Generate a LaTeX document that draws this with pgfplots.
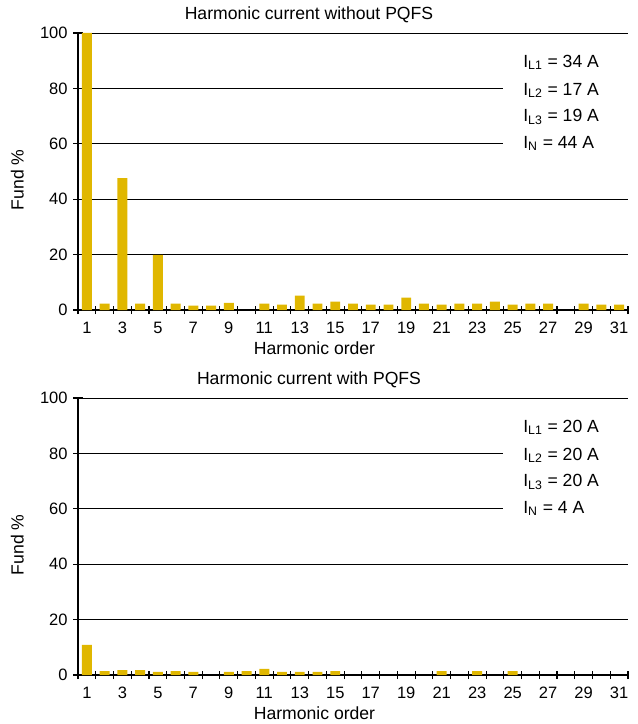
\documentclass[border=0pt]{standalone}
\usepackage{fontspec}
\setmainfont{Liberation Sans}
\usepackage{pgfplots}
\pgfplotsset{compat=1.18}
\definecolor{bargold}{RGB}{224,183,0}
\newcommand\txt{\fontsize{11}{13}\selectfont}
\tikzset{lab/.style={anchor=base west, inner sep=0pt, font=\txt}}
\pgfplotsset{
  hbar/.style={
    width=343.75pt, height=173.125pt, scale only axis,
    anchor=south west,
    axis lines=left, axis line style={-, line width=0.7pt, black},
    xmin=0.5, xmax=31.5, ymin=0, ymax=100,
    xtick={1,3,...,31},
    minor xtick={0.5,1.5,...,31.5},
    ytick={0,20,...,100},
    tick align=center,
    major tick length=6pt,
    minor tick length=5pt,
    major x tick style={draw=none},
    minor tick style={line width=0.7pt, black},
    major y tick style={line width=0.7pt, black},
    /pgf/number format/assume math mode=true,
    tick label style={font=\fontsize{10.3}{12}\selectfont},
    xticklabel style={yshift=-1pt},
    title style={at={(axis description cs:0.42,1)}, anchor=base, yshift=2.5pt, font=\txt},
    xlabel style={at={(axis description cs:0.43,0)}, anchor=base, yshift=-27.5pt, font=\txt},
    ylabel style={at={([xshift=-34pt]axis description cs:0,0.47)}, anchor=base, font=\txt},
    xlabel={Harmonic order},
    ylabel={Fund \%},
  },
  gl/.style={black, line width=0.6pt, forget plot, mark=none},
  bars/.style={ybar, bar width=0.56, fill=bargold, draw=none, forget plot},
}
\begin{document}
\begin{tikzpicture}
\useasboundingbox (-48.75pt,-258.75pt) rectangle (349.375pt,193.75pt);
% top chart
\begin{axis}[hbar, at={(0,0)}, title={Harmonic current without PQFS}]
\addplot[gl] coordinates {(0.5,20) (31.5,20)};
\addplot[gl] coordinates {(0.5,40) (31.5,40)};
\addplot[gl] coordinates {(0.5,60) (24.45,60)};
\addplot[gl] coordinates {(0.5,80) (24.45,80)};
\addplot[gl] coordinates {(0.5,100) (31.5,100)};
\addplot[bars] coordinates {
(1,100) (2,2.3) (3,47.6) (4,2.3) (5,19.9) (6,2.3) (7,1.6) (8,1.6) (9,2.6)
(11,2.3) (12,1.9) (13,5.2) (14,2.3) (15,3.0) (16,2.3) (17,1.9) (18,1.9)
(19,4.5) (20,2.3) (21,1.9) (22,2.3) (23,2.3) (24,3.0) (25,1.9) (26,2.3)
(27,2.3) (29,2.3) (30,1.9) (31,1.9)};
\node[lab] at (axis cs:25.58,87.7) {I\textsubscript{L1} = 34 A};
\node[lab] at (axis cs:25.58,77.6) {I\textsubscript{L2} = 17 A};
\node[lab] at (axis cs:25.58,68.0) {I\textsubscript{L3} = 19 A};
\node[lab] at (axis cs:25.58,58.4) {I\textsubscript{N} = 44 A};
\end{axis}
% bottom chart
\begin{axis}[hbar, at={(0,-228.125pt)}, title={Harmonic current with PQFS}]
\addplot[gl] coordinates {(0.5,20) (31.5,20)};
\addplot[gl] coordinates {(0.5,40) (31.5,40)};
\addplot[gl] coordinates {(0.5,60) (24.45,60)};
\addplot[gl] coordinates {(0.5,80) (24.45,80)};
\addplot[gl] coordinates {(0.5,100) (31.5,100)};
\addplot[bars] coordinates {
(1,10.9) (2,1.4) (3,1.8) (4,1.8) (5,1.1) (6,1.4) (7,1.1) (9,1.1) (10,1.4)
(11,2.2) (12,1.1) (13,1.1) (14,1.1) (15,1.4) (21,1.4) (23,1.4) (25,1.4)};
\node[lab] at (axis cs:25.58,87.7) {I\textsubscript{L1} = 20 A};
\node[lab] at (axis cs:25.58,77.6) {I\textsubscript{L2} = 20 A};
\node[lab] at (axis cs:25.58,68.0) {I\textsubscript{L3} = 20 A};
\node[lab] at (axis cs:25.58,58.4) {I\textsubscript{N} = 4 A};
\end{axis}
\end{tikzpicture}
\end{document}
